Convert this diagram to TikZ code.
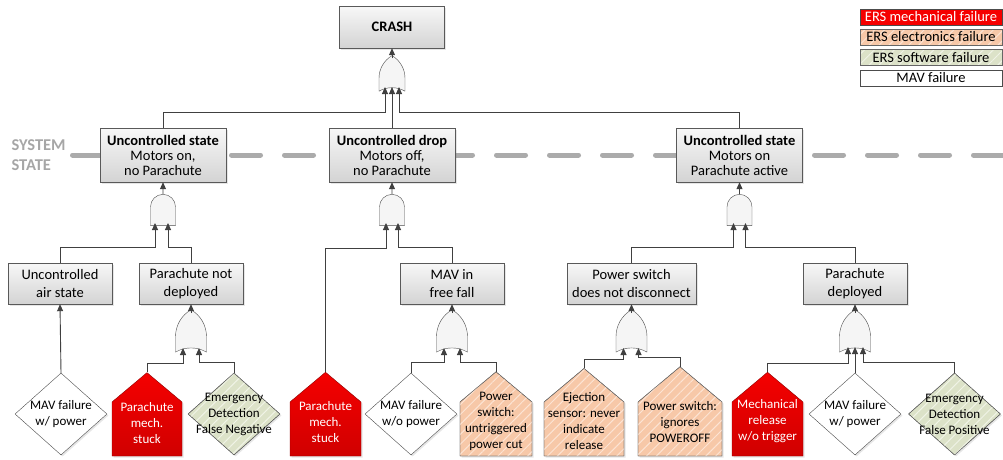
\documentclass[tikz,border=0pt]{standalone}
\usepackage{fontspec}
\setmainfont{Carlito}
\usetikzlibrary{arrows.meta,calc,shadows,patterns.meta,shapes.geometric,shapes.symbols,shapes.gates.logic.US}

\definecolor{mechred}{RGB}{245,0,0}
\definecolor{elecorange}{RGB}{247,200,168}
\definecolor{elecstripe}{RGB}{252,228,212}
\definecolor{softgreen}{RGB}{220,226,200}
\definecolor{softstripe}{RGB}{240,243,230}
\definecolor{linegray}{RGB}{64,64,64}

\begin{document}
\begin{tikzpicture}[x=1pt,y=-1pt,
    conn/.style={draw=linegray, line width=0.9pt, -{Triangle[length=7pt,width=6pt]}},
    shadowed/.style={drop shadow={shadow xshift=1.5pt,shadow yshift=-1.5pt,opacity=0.2}},
    hatch/.style={postaction={pattern color=#1, pattern={Lines[angle=45,distance=7pt,line width=1pt]}}, postaction={draw=black!60}},
    event/.style={draw=black!65, top color=black!3, bottom color=black!17, align=center, inner sep=2pt, shadowed, font=\fontsize{14.5}{17.5}\selectfont},
    state/.style={event, minimum width=126pt, minimum height=54pt, font=\fontsize{14.5}{15}\selectfont},
    sub/.style={event, minimum width=104pt, minimum height=41pt},
    andgate/.style={and gate US, draw=black!70, fill=black!4, rotate=90, inner sep=0pt, minimum width=24pt, minimum height=25pt},
    orgate/.style={or gate US, draw=black!70, fill=black!4, rotate=90, inner sep=0pt, minimum width=32pt, minimum height=31pt},
    leaftext/.style={align=center, inner sep=0pt, font=\fontsize{13}{16}\selectfont},
    mav/.style={diamond, draw=black!70, fill=white, shadowed, minimum width=92pt, minimum height=82pt, inner sep=0pt},
    house/.style={signal, signal to=north, signal pointer angle=100, shadowed, minimum width=70pt, minimum height=54pt, inner sep=0pt},
    mech/.style={house, draw=red!55!black, top color=mechred, bottom color=mechred!85!black},
    elec/.style={house, draw=black!60, fill=elecorange, hatch=elecstripe},
    soft/.style={mav, fill=softgreen, hatch=softstripe},
    key/.style={draw=black!70, minimum width=142pt, minimum height=16pt, inner sep=0pt, font=\fontsize{14.5}{15}\selectfont},
    sysline/.style={draw=black!33, line width=5pt, line cap=round, dash pattern=on 29pt off 24pt}
  ]
    \useasboundingbox (0,0) rectangle (1003,459);

    % system state
    \node[anchor=west, align=left, text=black!35, font=\bfseries\fontsize{16.5}{20}\selectfont] (sysLabel) at (8,155) {SYSTEM\\STATE};
    \draw[sysline] (72.5,155) -- (1003,155);

    % legend
    \node[key, fill=mechred, text=white] (keyMech) at (931,17) {ERS mechanical failure};
    \node[key, fill=elecorange, hatch=elecstripe] (keyElec) at (931,37) {ERS electronics failure};
    \node[key, fill=softgreen, hatch=softstripe] (keySoft) at (931,57.5) {ERS software failure};
    \node[key, fill=white] (keyMav) at (931,78) {MAV failure};

    % top event
    \node[event, minimum width=105pt, minimum height=42pt, font=\bfseries\fontsize{14.5}{15}\selectfont] (crash) at (392,27) {CRASH};
    \node[orgate, minimum width=28pt, minimum height=26pt, logic gate inputs=nnn] (orCrash) at (392,76) {};
    \draw[conn] (orCrash) -- (crash);

    % system states
    \node[state] (ctrlOn) at (163,155) {\textbf{Uncontrolled state}\\Motors on,\\no Parachute};
    \node[state] (drop) at (392,155) {\textbf{Uncontrolled drop}\\Motors off,\\no Parachute};
    \node[state] (ctrlChute) at (739.5,155) {\textbf{Uncontrolled state}\\Motors on\\Parachute active};
    \draw[conn] (ctrlOn.north) -- ++(0,-15) -| ($(orCrash)+(-7,11)$);
    \draw[conn] (drop.north) -- ($(orCrash)+(0,11)$);
    \draw[conn] (ctrlChute.north) -- ++(0,-15) -| ($(orCrash)+(7,11)$);

    % and gates
    \node[andgate, logic gate inputs=nn] (andOn) at (163,211) {};
    \node[andgate, logic gate inputs=nn] (andDrop) at (392,211) {};
    \node[andgate, logic gate inputs=nn] (andChute) at (739.5,211) {};
    \draw[conn] (andOn) -- (ctrlOn);
    \draw[conn] (andDrop) -- (drop);
    \draw[conn] (andChute) -- (ctrlChute);

    % intermediate events
    \node[sub] (air) at (60,283.5) {Uncontrolled\\air state};
    \node[sub] (notdep) at (191,283.5) {Parachute not\\deployed};
    \node[sub] (freefall) at (452,283.5) {MAV in\\free fall};
    \node[sub, minimum width=129pt] (pswitch) at (631.5,283.5) {Power switch\\does not disconnect};
    \node[sub] (deployed) at (855,283.5) {Parachute\\deployed};
    \draw[conn] (air.north) -- ++(0,-15) -| ($(andOn)+(-8,12)$);
    \draw[conn] (notdep.north) -- ++(0,-15) -| ($(andOn)+(5,12)$);
    \draw[conn] (freefall.north) -- ++(0,-15) -| ($(andDrop)+(6,12)$);
    \draw[conn] (pswitch.north) -- ++(0,-15) -| ($(andChute)+(-6,12)$);
    \draw[conn] (deployed.north) -- ++(0,-15) -| ($(andChute)+(6,12)$);

    % or gates
    \node[orgate, logic gate inputs=nn] (orNotdep) at (191,334) {};
    \node[orgate, logic gate inputs=nn] (orFall) at (452,334) {};
    \node[orgate, logic gate inputs=nn] (orSwitch) at (631.5,334) {};
    \node[orgate, logic gate inputs=nnn] (orDeployed) at (855,334) {};
    \draw[conn] (orNotdep) -- (notdep);
    \draw[conn] (orFall) -- (freefall);
    \draw[conn] (orSwitch) -- (pswitch);
    \draw[conn] (orDeployed) -- (deployed);

    % basic events
    \node[mav, label={[leaftext]center:{MAV failure\\w/ power}}] (mavOn) at (61,414) {};
    \node[mech, label={[leaftext,text=white,yshift=6pt]center:{Parachute\\mech.\\stuck}}] (stuckA) at (147,429) {};
    \node[soft, label={[leaftext]center:{Emergency\\Detection\\False Negative}}] (fnA) at (234,414) {};
    \node[mech, minimum width=71pt, label={[leaftext,text=white,yshift=7pt]center:{Parachute\\mech.\\stuck}}] (stuckB) at (325.5,429) {};
    \node[mav, label={[leaftext]center:{MAV failure\\w/o power}}] (mavOff) at (411,414) {};
    \node[elec, minimum width=72pt, label={[leaftext,yshift=8pt]center:{Power\\switch:\\untriggered\\power cut}}] (cutB) at (496,429) {};
    \node[elec, minimum width=80pt, label={[leaftext,yshift=8pt]center:{Ejection\\sensor: never\\indicate\\release}}] (sensor) at (584,429) {};
    \node[elec, minimum width=84pt, label={[leaftext,yshift=7pt]center:{Power switch:\\ignores\\POWEROFF}}] (poweroff) at (680,429) {};
    \node[mech, minimum width=71pt, label={[leaftext,text=white,yshift=8pt]center:{Mechanical\\release\\w/o trigger}}] (release) at (767.5,429) {};
    \node[mav, label={[leaftext]center:{MAV failure\\w/ power}}] (mavOn2) at (855,414) {};
    \node[soft, label={[leaftext]center:{Emergency\\Detection\\False Positive}}] (fpC) at (954.5,414) {};

    \draw[conn] (mavOn.north) -- (air.south);
    \draw[conn] (stuckA.north) -- ++(0,-9) -| ($(orNotdep)+(-8,14)$);
    \draw[conn] (fnA.north) -- ++(0,-10) -| ($(orNotdep)+(8,14)$);
    \draw[conn] (stuckB.north) -- ++(0,-124) -| ($(andDrop)+(-6,12)$);
    \draw[conn] (mavOff.north) -- ++(0,-10) -| ($(orFall)+(-8,14)$);
    \draw[conn] (cutB.north) -- ++(0,-9) -| ($(orFall)+(8,14)$);
    \draw[conn] (sensor.north) -- ++(0,-9) -| ($(orSwitch)+(-8,14)$);
    \draw[conn] (poweroff.north) -- ++(0,-9) -| ($(orSwitch)+(7,14)$);
    \draw[conn] (release.north) -- ++(0,-9) -| ($(orDeployed)+(-7,13)$);
    \draw[conn] (mavOn2.north) -- ($(orDeployed)+(0,13)$);
    \draw[conn] (fpC.north) -- ++(0,-10) -| ($(orDeployed)+(8,13)$);
  \end{tikzpicture}
\end{document}
